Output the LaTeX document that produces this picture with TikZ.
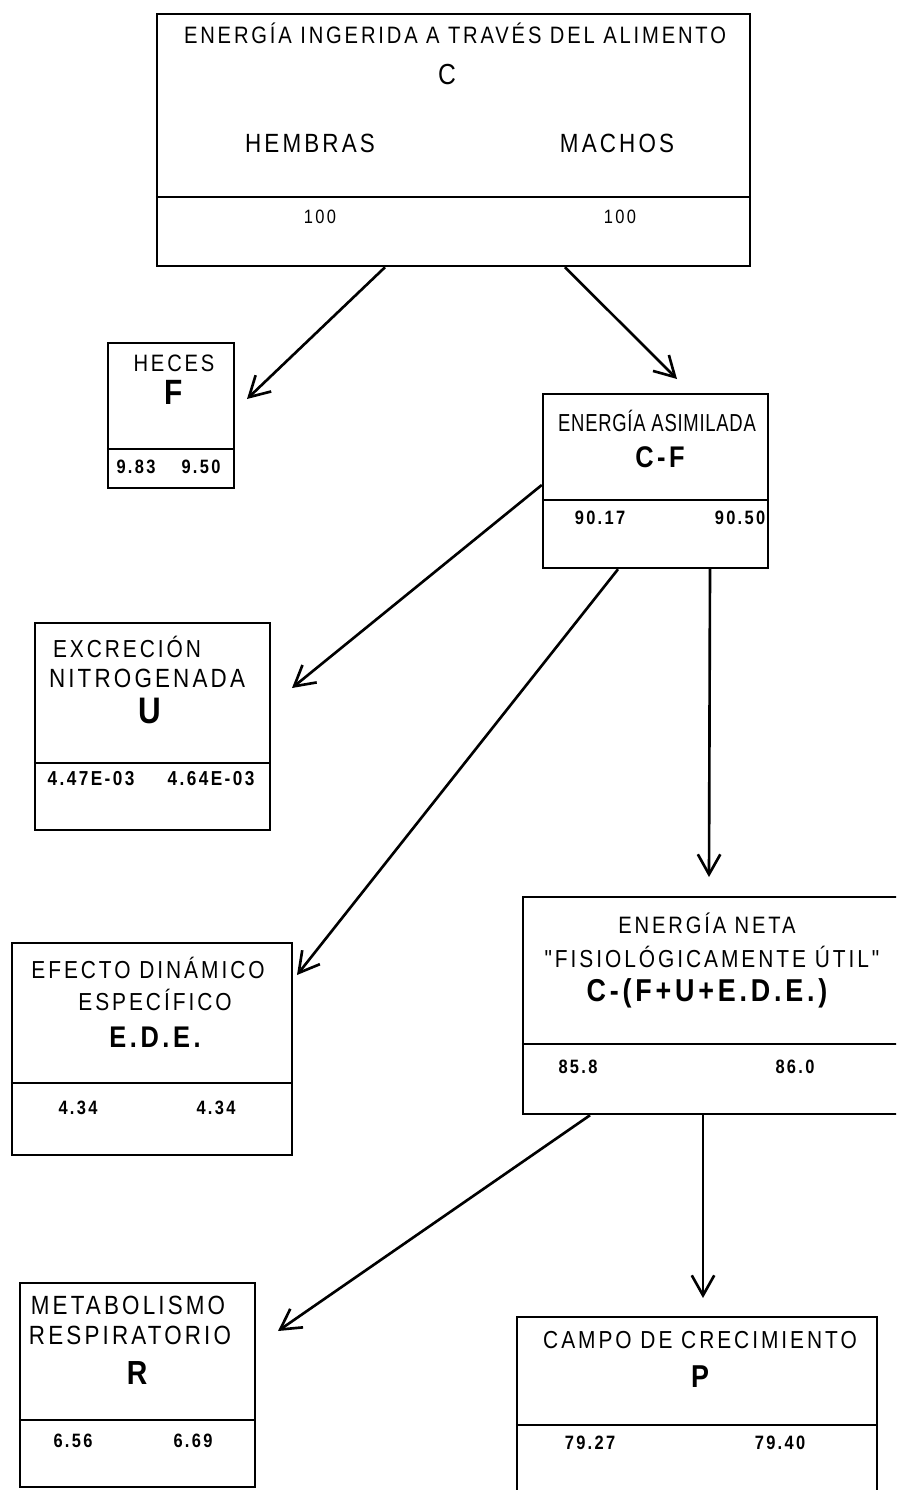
\documentclass[tikz,border=0pt]{standalone}
\usepackage{fontspec}
\setmainfont{Liberation Sans}
\newfontfamily\letra[FakeStretch=0.85,LetterSpace=12]{Liberation Sans}
\newfontfamily\letrac[FakeStretch=0.75,LetterSpace=3]{Liberation Sans}
\usetikzlibrary{calc,positioning,fit,arrows.meta}
\tikzset{
  caja/.style={
    draw,
    rectangle,
    inner sep=0pt,
    line width=1.4pt,
  },
  divisor/.style={line width=1.4pt},
  rotulo/.style={
    inner sep=0pt,
    font=\letra\fontsize{14}{17}\selectfont,
  },
  simbolo/.style={
    inner sep=0pt,
    font=\letra\bfseries\fontsize{17}{20}\selectfont,
  },
  valor/.style={
    inner sep=0pt,
    font=\letra\bfseries\fontsize{11}{13}\selectfont,
  },
  flujo/.style={line width=1.5pt, -{Straight Barb[length=4mm,width=4.5mm,line width=1.5pt]}},
}
\begin{document}
\begin{tikzpicture}[x=0.2mm, y=-0.2mm]
  \clip (0,0) rectangle (896,1490);
  \fill[white] (0,0) rectangle (896,1490);
  \foreach \n/\l/\t/\r/\b/\d in {C/157/14/750/266/197, F/108/343/234/488/449,
      CF/543/394/768/568/500, U/35/623/270/830/763, EDE/12/943/292/1155/1083,
      EN/523/897/905/1114/1044, R/20/1283/255/1487/1420, P/517/1317/877/1500/1425} {
    \node[caja, fit={(\l,\t) (\r,\b)}] (\n) {};
    \draw[divisor] (\n.west |- 0,\d) -- (\n.east |- 0,\d);
  }
  % alimento
  \node[rotulo, font=\letra\fontsize{13.5}{16}\selectfont] (tC1) at (455,33) {ENERGÍA INGERIDA A TRAVÉS DEL ALIMENTO};
  \node[rotulo, font=\letra\fontsize{16.5}{20}\selectfont] (tC2) at (447,75) {C};
  \node[rotulo, font=\letra\fontsize{15}{18}\selectfont] (hC) at (310,143) {HEMBRAS};
  \node[rotulo, font=\letra\fontsize{15}{18}\selectfont] (mC) at (617,143) {MACHOS};
  \node[valor, font=\letra\fontsize{11}{13}\selectfont] (vC1) at (320,217) {100};
  \node[valor, font=\letra\fontsize{11}{13}\selectfont] (vC2) at (620,217) {100};
  % heces
  \node[rotulo, font=\letra\fontsize{13.5}{16}\selectfont] (tF1) at (174,363) {HECES};
  \node[simbolo, font=\letra\bfseries\fontsize{20}{24}\selectfont] (tF2) at (174,392) {F};
  \node[valor] (vF1) at (136,467) {9.83};
  \node[valor] (vF2) at (201,467) {9.50};
  % asimilada
  \node[rotulo, font=\letrac\fontsize{14}{17}\selectfont] (tCF1) at (657,421) {ENERGÍA ASIMILADA};
  \node[simbolo] (tCF2) at (660,457) {C-F};
  \node[valor] (vCF1) at (600,518) {90.17};
  \node[valor] (vCF2) at (740,518) {90.50};
  % excrecion
  \node[rotulo] (tU1) at (127,647) {EXCRECIÓN};
  \node[rotulo, font=\letra\fontsize{15}{18}\selectfont] (tU2) at (147,678) {NITROGENADA};
  \node[simbolo, font=\letra\bfseries\fontsize{21}{25}\selectfont] (tU3) at (150,711) {U};
  \node[valor, font=\letra\bfseries\fontsize{11.5}{13}\selectfont] (vU1) at (91,779) {4.47E-03};
  \node[valor, font=\letra\bfseries\fontsize{11.5}{13}\selectfont] (vU2) at (211,779) {4.64E-03};
  % e.d.e.
  \node[rotulo] (tE1) at (148,968) {EFECTO DINÁMICO};
  \node[rotulo] (tE2) at (155,1000) {ESPECÍFICO};
  \node[simbolo] (tE3) at (155,1037) {E.D.E.};
  \node[valor] (vE1) at (78,1108) {4.34};
  \node[valor] (vE2) at (216,1108) {4.34};
  % neta
  \node[rotulo, font=\letra\fontsize{13.5}{16}\selectfont] (tN1) at (707,923) {ENERGÍA NETA};
  \node[rotulo] (tN2) at (712,957) {"FISIOLÓGICAMENTE ÚTIL"};
  \node[simbolo, font=\letra\bfseries\fontsize{18}{22}\selectfont] (tN3) at (707,993) {C-(F+U+E.D.E.)};
  \node[valor] (vN1) at (578,1067) {85.8};
  \node[valor] (vN2) at (795,1067) {86.0};
  % respiratorio
  \node[rotulo, font=\letra\fontsize{15}{18}\selectfont] (tR1) at (128,1305) {METABOLISMO};
  \node[rotulo, font=\letra\fontsize{15}{18}\selectfont] (tR2) at (130,1335) {RESPIRATORIO};
  \node[simbolo, font=\letra\bfseries\fontsize{19}{22}\selectfont] (tR3) at (137,1373) {R};
  \node[valor] (vR1) at (73,1441) {6.56};
  \node[valor] (vR2) at (193,1441) {6.69};
  % crecimiento
  \node[rotulo] (tP1) at (700,1340) {CAMPO DE CRECIMIENTO};
  \node[simbolo, font=\letra\bfseries\fontsize{18}{22}\selectfont] (tP2) at (700,1377) {P};
  \node[valor] (vP1) at (590,1443) {79.27};
  \node[valor] (vP2) at (780,1443) {79.40};
  % flechas
  \coordinate (aF) at (247,399);
  \coordinate (aCF) at (677,379);
  \coordinate (aU) at (292,688);
  \coordinate (aE) at (297,975);
  \coordinate (aN) at (709,877);
  \coordinate (aR) at (278,1331);
  \coordinate (aP) at (703,1298);
  \draw[flujo] (C.south -| 385,0) -- (aF);
  \draw[flujo] (C.south -| 565,0) -- (aCF);
  \draw[flujo] (CF.west |- 0,485) -- (aU);
  \draw[flujo] (CF.south -| 618,0) -- (aE);
  \draw[flujo] (CF.south -| 710,0) -- (aN);
  \draw[flujo] (EN.south -| 590,0) -- (aR);
  \draw[flujo] (EN.south -| 703,0) -- (aP);
\end{tikzpicture}
\end{document}
